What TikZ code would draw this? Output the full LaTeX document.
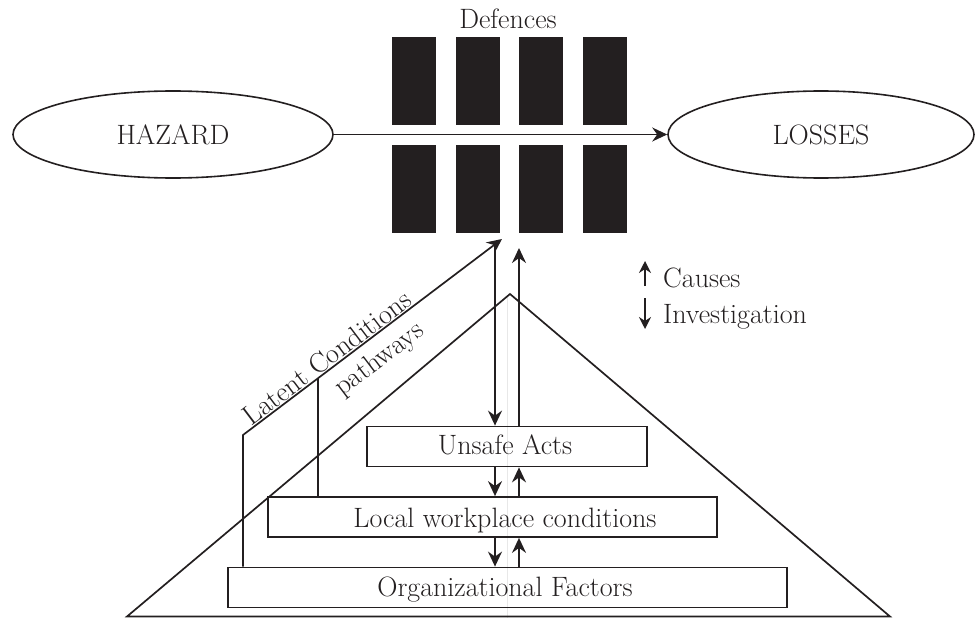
\documentclass[tikz,border=0pt]{standalone}
\usetikzlibrary{arrows.meta,shapes.geometric,calc}
\newcommand\lblfont{\fontsize{28}{33}\selectfont}
\definecolor{ink}{HTML}{231F20}
\begin{document}
\begin{tikzpicture}[x=1pt,y=-1pt, color=ink,
  txt/.style={font=\lblfont, inner sep=0pt, text=ink},
  oval/.style={draw, ellipse, line width=1.6pt, inner sep=0pt,
    minimum width=#1, minimum height=87pt, font=\lblfont},
  bar/.style={fill=ink, draw=none, minimum width=44pt,
    minimum height=88pt, inner sep=0pt},
  level/.style={draw, line width=1.8pt, inner sep=0pt, minimum height=40pt},
  edge/.style={line width=1.7pt},
  conn/.style={edge, -{Stealth[length=15pt,width=14pt,inset=5pt]}},
  keyarrow/.style={line width=1.6pt, -{Stealth[length=12pt,width=12pt,inset=4pt]}},
]
\useasboundingbox (0,0) rectangle (975,618);

% defence barriers
\node[txt, anchor=base] (def) at (508,29) {Defences};
\foreach \i/\x in {1/414,2/478,3/541,4/605}{
  \node[bar] (top\i) at (\x,81) {};
  \node[bar] (bot\i) at (\x,189) {};
}

% hazard trajectory
\node[oval=320pt] (hz) at (173,134.5) {HAZARD};
\node[oval=306pt] (ls) at (821,134.5) {LOSSES};
\draw[conn] (hz) -- (ls);

% organisational pyramid
\coordinate (apex) at (510,294);
\coordinate (base-l) at (127,616.5);
\coordinate (base-r) at (890,616.5);
\draw[gray!18, line width=0.7pt] (507,296) -- (507,618);
\draw[edge, line join=miter] (apex) -- (base-l) -- (base-r) -- cycle;

\node[level, minimum width=280pt] (ua) at (507,446.5) {};
\node[level, minimum width=449pt] (lw) at (492.5,517) {};
\node[level, minimum width=559pt] (of) at (507.5,587.5) {};
\node[txt, anchor=base] (ua-t) at (505,454) {Unsafe Acts};
\node[txt, anchor=base] (lw-t) at (505,527) {Local workplace conditions};
\node[txt, anchor=base] (of-t) at (505,596) {Organizational Factors};

% causes (up) and investigation (down)
\coordinate (inv-top) at (495,243);
\coordinate (cau-top) at (519,248);
\draw[conn] (inv-top) -- (ua.north -| inv-top);
\draw[conn] (ua.north -| cau-top) -- (cau-top);
\draw[conn] (ua.south -| inv-top) -- (lw.north -| inv-top);
\draw[conn] (lw.north -| cau-top) -- (ua.south -| cau-top);
\draw[conn] (lw.south -| inv-top) -- (of.north -| inv-top);
\draw[conn] (of.north -| cau-top) -- (lw.south -| cau-top);

% latent conditions pathways
\coordinate (lc-corner) at (243,435);
\coordinate (lc-tip) at (502,239);
\coordinate (pw-join) at ($(lc-corner)!0.2896!(lc-tip)$);
\draw[conn, line join=miter] (of.north -| lc-corner) -- (lc-corner) -- (lc-tip);
\draw[edge] (lw.north -| pw-join) -- (pw-join);
\path (lc-corner) -- (lc-tip)
  node[txt, pos=0.35, sloped, above=1pt] (lc-t) {Latent Conditions}
  node[txt, pos=0.476, sloped, below=10pt] (pw-t) {pathways};

% key
\coordinate (key-up-tail) at (645,286);
\coordinate (key-up-tip) at (645,261);
\coordinate (key-dn-tail) at (645,298);
\coordinate (key-dn-tip) at (645,329);
\draw[keyarrow] (key-up-tail) -- (key-up-tip);
\draw[keyarrow] (key-dn-tail) -- (key-dn-tip);
\node[txt, anchor=base west] (cau) at (663,287) {Causes};
\node[txt, anchor=base west] (inv) at (663,323) {Investigation};
\end{tikzpicture}
\end{document}
